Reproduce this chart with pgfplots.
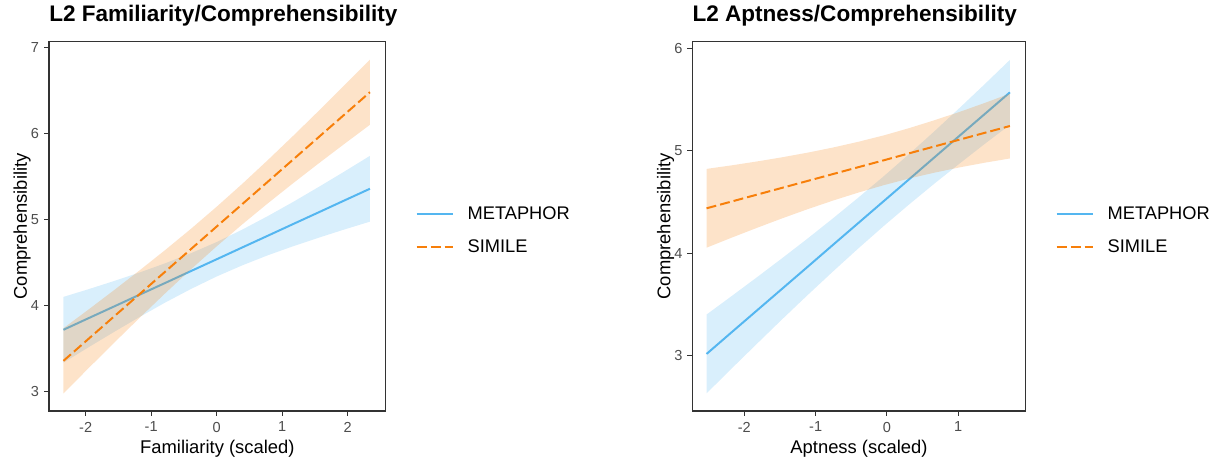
\documentclass[border=0pt]{standalone}
\usepackage{fontspec}
\setmainfont{Liberation Sans}
\usepackage{pgfplots}
\pgfplotsset{compat=1.18}
\definecolor{mblue}{RGB}{84,182,240}
\definecolor{sorange}{RGB}{247,127,10}
\definecolor{axgray}{HTML}{333333}
\definecolor{tkgray}{HTML}{4D4D4D}
\pgfplotsset{
  myaxis/.style={
    scale only axis,
    axis line style={axgray, line width=0.8pt},
    tick align=outside,
    major tick length=3.75pt,
    every tick/.style={axgray, line width=0.75pt},
    xtick pos=left, ytick pos=left,
    tick label style={font=\fontsize{10.9}{12}\selectfont, text=tkgray, inner sep=0pt},
    yticklabel style={xshift=-3.5pt},
    xticklabel style={yshift=-4.25pt},
    label style={font=\fontsize{13.8}{15}\selectfont},
    xlabel style={at={(rel axis cs:0.5,0)}, anchor=base, yshift=-31.7pt, inner sep=0pt},
    ylabel style={at={(rel axis cs:0,0.5)}, anchor=base, yshift=16.5pt, inner sep=0pt},
    title style={at={(rel axis cs:0,1)}, anchor=base west, yshift=9.3pt, inner sep=0pt, font=\bfseries\fontsize{16.9}{18}\selectfont},
    legend style={draw=none, fill=none, at={(rel axis cs:1,0.5)}, anchor=west, xshift=22.3pt, yshift=-3.1pt,
      font=\fontsize{13.7}{15}\selectfont, inner sep=0pt, row sep=14pt, nodes={inner sep=0pt},
      /tikz/every odd column/.append style={column sep=10.5pt}},
    legend cell align=left,
    legend image code/.code={\draw[##1] (0pt,0pt) -- (27pt,0pt);},
  },
  mline/.style={mblue, line width=1.5pt},
  sline/.style={sorange, line width=1.5pt, dash pattern=on 7.5pt off 3pt},
}
\begin{document}
\begin{tikzpicture}
\useasboundingbox (0,0) rectangle (911.25pt,345pt);
% ---------------- Left panel ----------------
\begin{axis}[myaxis,
  at={(36.75pt,36.75pt)}, anchor=south west,
  width=252.5pt, height=277pt,
  xmin=-2.56, xmax=2.58, ymin=2.776, ymax=7.065,
  xtick={-2,-1,0,1,2}, xticklabels={-2,-1,0,1,2},
  ytick={3,4,5,6,7}, yticklabels={3,4,5,6,7},
  title={L2 Familiarity/Comprehensibility},
  xlabel={Familiarity (scaled)}, ylabel={Comprehensibility}]
\addplot[draw=none, fill=mblue, fill opacity=0.22, forget plot] coordinates {
(-2.34,4.101)(-1.95,4.192)(-1.56,4.287)(-1.17,4.386)(-0.78,4.493)(-0.39,4.609)(0,4.738)(0.39,4.882)(0.78,5.039)(1.17,5.205)(1.56,5.379)(1.95,5.557)(2.34,5.739)
(2.34,4.975)(1.95,4.884)(1.56,4.789)(1.17,4.690)(0.78,4.584)(0.39,4.467)(0,4.338)(-0.39,4.194)(-0.78,4.038)(-1.17,3.871)(-1.56,3.697)(-1.95,3.519)(-2.34,3.337)};
\addplot[mline] coordinates {
(-2.34,3.719)(-1.95,3.856)(-1.56,3.992)(-1.17,4.129)(-0.78,4.265)(-0.39,4.402)(0,4.538)(0.39,4.675)(0.78,4.811)(1.17,4.948)(1.56,5.084)(1.95,5.221)(2.34,5.357)};
\addlegendentry{METAPHOR}
\addplot[draw=none, fill=sorange, fill opacity=0.22, forget plot] coordinates {
(-2.34,3.737)(-1.95,3.958)(-1.56,4.183)(-1.17,4.413)(-0.78,4.649)(-0.39,4.893)(0,5.148)(0.39,5.413)(0.78,5.689)(1.17,5.973)(1.56,6.263)(1.95,6.558)(2.34,6.857)
(2.34,6.100)(1.95,5.878)(1.56,5.653)(1.17,5.423)(0.78,5.187)(0.39,4.943)(0,4.688)(-0.39,4.423)(-0.78,4.147)(-1.17,3.863)(-1.56,3.573)(-1.95,3.278)(-2.34,2.980)};
\addplot[sline] coordinates {
(-2.34,3.358)(-1.95,3.618)(-1.56,3.878)(-1.17,4.138)(-0.78,4.398)(-0.39,4.658)(0,4.918)(0.39,5.178)(0.78,5.438)(1.17,5.698)(1.56,5.958)(1.95,6.218)(2.34,6.478)};
\addlegendentry{SIMILE}
\end{axis}
% ---------------- Right panel ----------------
\begin{axis}[myaxis,
  at={(519.2pt,36.75pt)}, anchor=south west,
  width=250pt, height=277pt,
  xmin=-2.73, xmax=1.945, ymin=2.46, ymax=6.068,
  xtick={-2,-1,0,1}, xticklabels={-2,-1,0,1},
  ytick={3,4,5,6}, yticklabels={3,4,5,6},
  title={L2 Aptness/Comprehensibility},
  xlabel={Aptness (scaled)}, ylabel={Comprehensibility}]
\addplot[draw=none, fill=mblue, fill opacity=0.22, forget plot] coordinates {
(-2.53,3.402)(-2.175,3.584)(-1.82,3.768)(-1.465,3.955)(-1.11,4.146)(-0.755,4.343)(-0.4,4.545)(-0.045,4.753)(0.31,4.969)(0.665,5.192)(1.02,5.421)(1.375,5.655)(1.725,5.890)
(1.725,5.256)(1.375,5.071)(1.02,4.878)(0.665,4.681)(0.31,4.477)(-0.045,4.267)(-0.4,4.049)(-0.755,3.824)(-1.11,3.594)(-1.465,3.359)(-1.82,3.119)(-2.175,2.877)(-2.53,2.632)};
\addplot[mline] coordinates {
(-2.53,3.017)(-2.175,3.231)(-1.82,3.444)(-1.465,3.657)(-1.11,3.870)(-0.755,4.084)(-0.4,4.297)(-0.045,4.510)(0.31,4.723)(0.665,4.937)(1.02,5.150)(1.375,5.363)(1.725,5.573)};
\addlegendentry{METAPHOR}
\addplot[draw=none, fill=sorange, fill opacity=0.22, forget plot] coordinates {
(-2.53,4.825)(-2.175,4.860)(-1.82,4.898)(-1.465,4.939)(-1.11,4.984)(-0.755,5.034)(-0.4,5.090)(-0.045,5.152)(0.31,5.223)(0.665,5.300)(1.02,5.382)(1.375,5.470)(1.725,5.561)
(1.725,4.927)(1.375,4.886)(1.02,4.840)(0.665,4.788)(0.31,4.731)(-0.045,4.666)(-0.4,4.594)(-0.755,4.516)(-1.11,4.432)(-1.465,4.343)(-1.82,4.250)(-2.175,4.154)(-2.53,4.055)};
\addplot[sline] coordinates {
(-2.53,4.440)(-2.175,4.507)(-1.82,4.574)(-1.465,4.641)(-1.11,4.708)(-0.755,4.775)(-0.4,4.842)(-0.045,4.909)(0.31,4.977)(0.665,5.044)(1.02,5.111)(1.375,5.178)(1.725,5.244)};
\addlegendentry{SIMILE}
\end{axis}
\end{tikzpicture}
\end{document}
